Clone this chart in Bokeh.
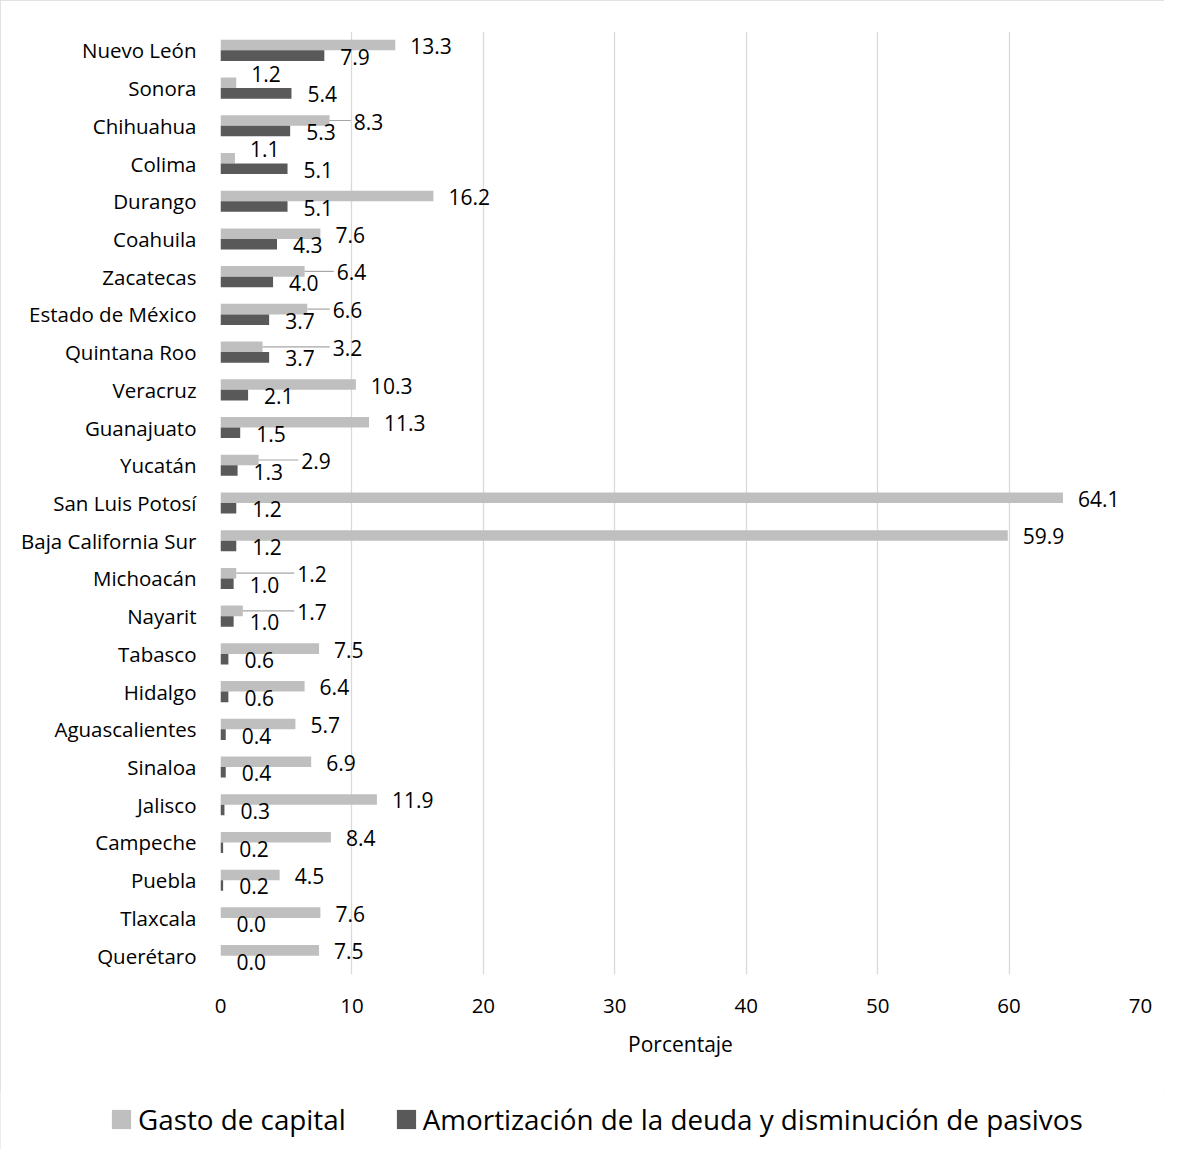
from bokeh.plotting import figure
from bokeh.models import (FactorRange, Range1d, FixedTicker, Legend, LegendItem,
                          ColumnDataSource)
from bokeh.layouts import column
from bokeh.transform import dodge
from bokeh.embed import file_html
from bokeh.resources import INLINE
from bokeh.core.properties import value

# ---------------- data ----------------
estados = ["Nuevo León", "Sonora", "Chihuahua", "Colima", "Durango", "Coahuila",
           "Zacatecas", "Estado de México", "Quintana Roo", "Veracruz", "Guanajuato",
           "Yucatán", "San Luis Potosí", "Baja California Sur", "Michoacán", "Nayarit",
           "Tabasco", "Hidalgo", "Aguascalientes", "Sinaloa", "Jalisco", "Campeche",
           "Puebla", "Tlaxcala", "Querétaro"]
gasto_capital = [13.3, 1.2, 8.3, 1.1, 16.2, 7.6, 6.4, 6.6, 3.2, 10.3, 11.3, 2.9, 64.1,
                 59.9, 1.2, 1.7, 7.5, 6.4, 5.7, 6.9, 11.9, 8.4, 4.5, 7.6, 7.5]
amortizacion = [7.9, 5.4, 5.3, 5.1, 5.1, 4.3, 4.0, 3.7, 3.7, 2.1, 1.5, 1.3, 1.2,
                1.2, 1.0, 1.0, 0.6, 0.6, 0.4, 0.4, 0.3, 0.2, 0.2, 0.0, 0.0]
x_ticks = [0, 10, 20, 30, 40, 50, 60, 70]
serie_nombres = ["Gasto de capital", "Amortización de la deuda y disminución de pasivos"]
eje_x_titulo = "Porcentaje"

# ---------------- styles ----------------
FONT = "Open Sans"
C_LIGHT = "#BFBFBF"
C_DARK = "#595959"
GRID = "#D9D9D9"
FRAME_W, FRAME_H = 920, 943
LEFT, TOP = 220, 31
W = 1164
H_MAIN = 1090
H_LEG = 59
XMAX = x_ticks[-1]
ppu = FRAME_W / XMAX
LAB_FS = 21


def text_w(s, fs=LAB_FS):
    return sum(0.267 if ch == "." else 0.572 for ch in s) * fs


g_lab = [f"{v:.1f}" for v in gasto_capital]
a_lab = [f"{v:.1f}" for v in amortizacion]

g_lx, a_lx, g_dy = [], [], []
lead_x0, lead_x1, lead_cat = [], [], []
for est, g, a, gl_s, al_s in zip(estados, gasto_capital, amortizacion, g_lab, a_lab):
    g_px, a_px = g * ppu, a * ppu
    al = a_px + 16
    ar = al + text_w(al_s)
    gl = g_px + 15
    dy = 1
    if gl < ar + 10 and gl + text_w(gl_s) > al:
        gl = ar + 18
        lead_x0.append(g)
        lead_x1.append((gl - 3) / ppu)
        lead_cat.append(est)
    elif gl < a_px:
        dy = -9          # lift label clear of the longer dark bar
    g_lx.append(gl / ppu)
    a_lx.append(al / ppu)
    g_dy.append(dy)

src = ColumnDataSource(dict(cat=estados, g=gasto_capital, a=amortizacion,
                            g_lab=g_lab, a_lab=a_lab, g_lx=g_lx, a_lx=a_lx, g_dy=g_dy))
lead_src = ColumnDataSource(dict(cat=lead_cat, x0=lead_x0, x1=lead_x1))

p = figure(width=W, height=H_MAIN, output_backend="svg", toolbar_location=None,
           y_range=FactorRange(factors=list(reversed(estados))),
           x_range=Range1d(0, XMAX))
p.frame_align = False
p.min_border_left = LEFT
p.min_border_right = W - LEFT - FRAME_W
p.min_border_top = TOP
p.min_border_bottom = H_MAIN - TOP - FRAME_H
p.outline_line_color = None
p.background_fill_color = "white"
p.border_fill_color = "white"

BH = 0.28
DY = 0.14
p.hbar(y=dodge("cat", DY, range=p.y_range), left=0, right="g", height=BH,
       fill_color=C_LIGHT, line_color=None, source=src)
p.hbar(y=dodge("cat", -DY, range=p.y_range), left=0, right="a", height=BH,
       fill_color=C_DARK, line_color=None, source=src)

p.segment(x0="x0", x1="x1", y0=dodge("cat", DY, range=p.y_range),
          y1=dodge("cat", DY, range=p.y_range), line_color="#A6A6A6", line_width=1.2,
          source=lead_src)

p.text(x="g_lx", y=dodge("cat", DY, range=p.y_range), text="g_lab", source=src,
       text_font=value(FONT), text_font_size=f"{LAB_FS}px", text_color="black",
       text_align="left", text_baseline="middle", y_offset="g_dy")
p.text(x="a_lx", y=dodge("cat", -DY, range=p.y_range), text="a_lab", source=src,
       text_font=value(FONT), text_font_size=f"{LAB_FS}px", text_color="black",
       text_align="left", text_baseline="middle", y_offset=1)

# axes / grid
p.xaxis.ticker = FixedTicker(ticks=x_ticks)
p.xgrid.grid_line_color = GRID
p.xgrid.grid_line_width = 1.3
p.ygrid.grid_line_color = None
p.xaxis.axis_label = eje_x_titulo
for ax in (p.xaxis, p.yaxis):
    ax.axis_line_color = None
    ax.major_tick_line_color = None
    ax.minor_tick_line_color = None
    ax.major_label_text_font = FONT
    ax.major_label_text_color = "black"
    ax.major_label_text_font_size = "20.5px"
p.xaxis.major_label_standoff = 18
p.xaxis.axis_label_text_font = FONT
p.xaxis.axis_label_text_font_style = "normal"
p.xaxis.axis_label_text_font_size = "21px"
p.xaxis.axis_label_text_color = "black"
p.xaxis.axis_label_standoff = 14
p.yaxis.major_label_standoff = 18

# ---------------- legend (separate strip) ----------------
lf = figure(width=W, height=H_LEG, output_backend="svg", toolbar_location=None,
            x_range=Range1d(0, 1), y_range=Range1d(0, 1))
lf.frame_align = False
lf.min_border_left = lf.min_border_right = lf.min_border_top = lf.min_border_bottom = 0
lf.axis.visible = False
lf.grid.visible = False
lf.outline_line_color = None
lf.border_fill_color = "white"
# legend proxies: zero-length bars outside the visible range
proxy = ColumnDataSource(dict(y=[-5], right=[0]))
lr1 = lf.hbar(y="y", right="right", left=0, height=0.1, fill_color=C_LIGHT,
              line_color=None, source=proxy)
lr2 = lf.hbar(y="y", right="right", left=0, height=0.1, fill_color=C_DARK,
              line_color=None, source=proxy)
legend = Legend(items=[LegendItem(label=serie_nombres[0], renderers=[lr1]),
                       LegendItem(label=serie_nombres[1], renderers=[lr2])],
                orientation="horizontal", location=(109, 11))
legend.glyph_width = 24
legend.glyph_height = 24
legend.label_standoff = 5
legend.spacing = 48
legend.padding = 0
legend.margin = 0
legend.border_line_color = None
legend.background_fill_alpha = 0
legend.label_text_font = FONT
legend.label_text_font_size = "27.8px"
legend.label_text_color = "black"
lf.add_layout(legend, "center")

layout = column(p, lf)
layout.styles = {"outline": "1px solid #D9D9D9", "outline-offset": "-1px"}

open("out.html", "w").write(file_html(layout, INLINE))
